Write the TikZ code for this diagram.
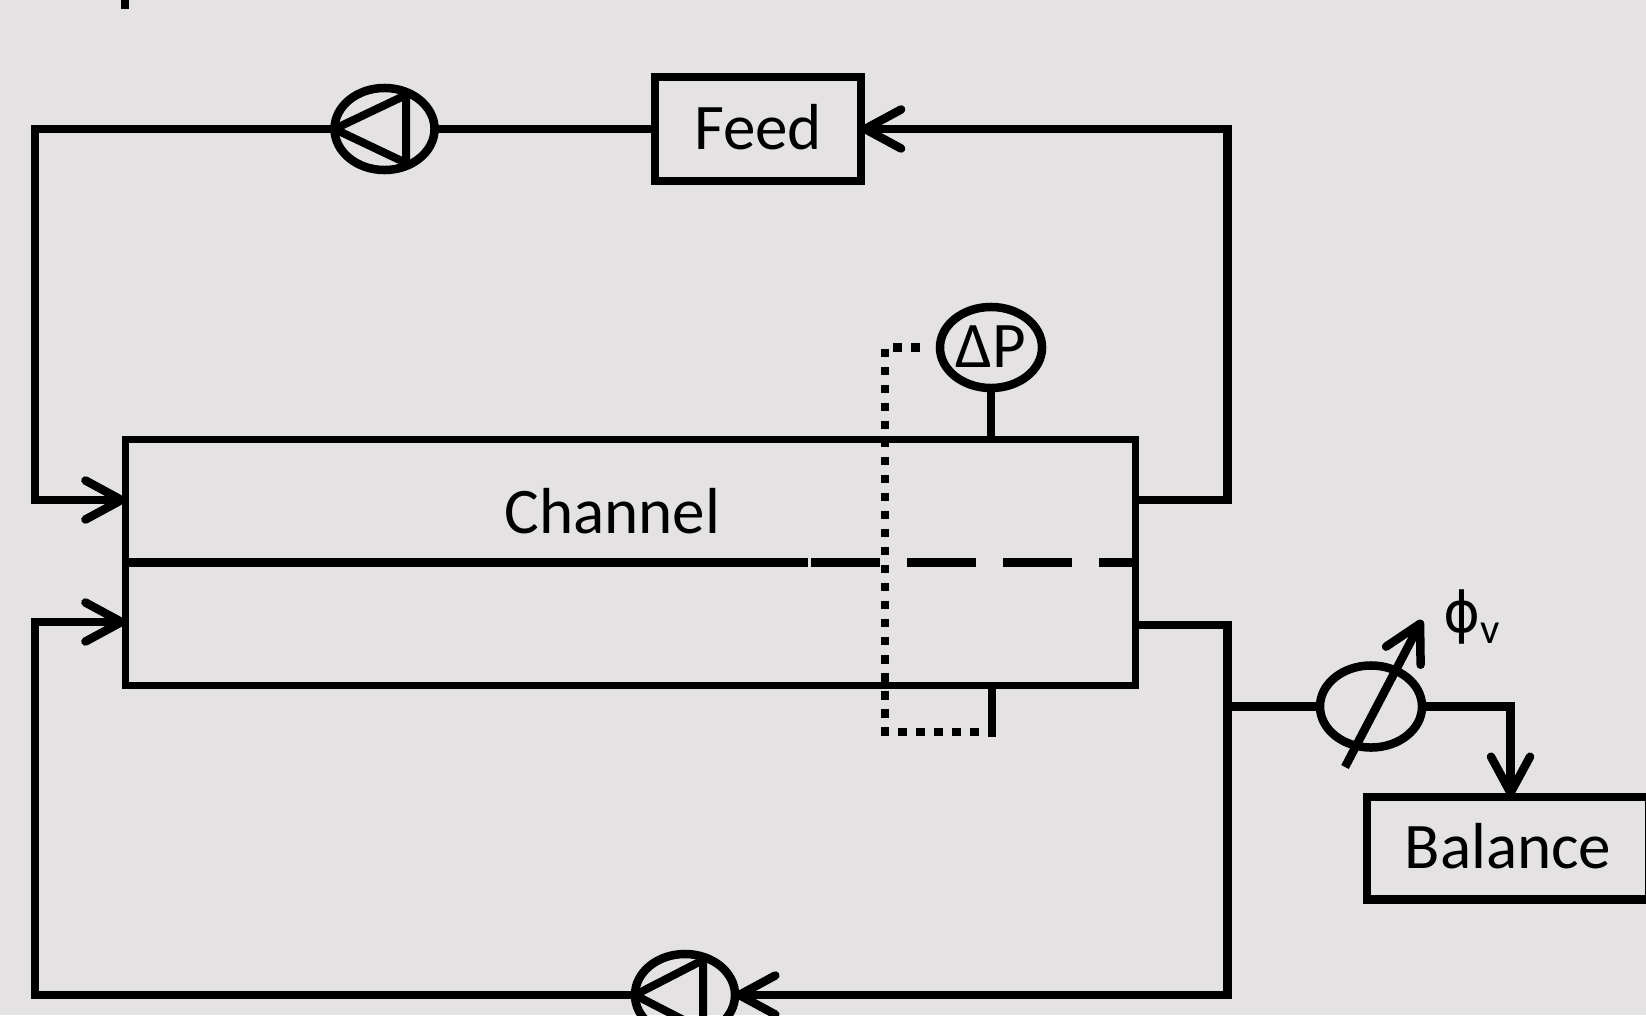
\documentclass[tikz,border=0pt]{standalone}
\usepackage{fontspec}
\setmainfont{Carlito}
\newfontfamily\phifont{DejaVu Sans}
\usetikzlibrary{arrows.meta,shapes.geometric,calc}
\definecolor{bgc}{RGB}{228,226,227}
\begin{document}
\begin{tikzpicture}[x=0.01cm,y=-0.01cm,
  pipe/.style={line width=0.085cm, line join=miter},
  flow/.style={pipe,-{Straight Barb[length=3.6mm,width=3.9mm,round]}},
  boxn/.style={draw,rectangle,line width=0.085cm,inner sep=0pt,outer sep=0pt,text height=0.4cm,text depth=0pt,font=\fontsize{18.5}{22}\selectfont},
  pumpn/.style={draw,ellipse,line width=0.085cm,minimum width=1.0cm,minimum height=0.82cm,inner sep=0pt,outer sep=0pt},
  lbl/.style={font=\fontsize{18.5}{22}\selectfont,inner sep=0pt},
  tri/.style={line width=0.08cm, line join=round},
  membrane/.style={line width=0.09cm},
  dots/.style={line width=0.088cm, dash pattern=on 0.088cm off 0.092cm}
]
\useasboundingbox (0,0) rectangle (1646,1015);
\clip (0,0) rectangle (1646,1015);
\fill[bgc] (0,0) rectangle (1646,1015);

% nodes
\node[boxn, minimum width=2.055cm, minimum height=1.04cm] (feed) at (758,129) {Feed};
\node[pumpn] (p1) at (384.5,129) {};
\node[draw, rectangle, line width=0.07cm, minimum width=10.095cm, minimum height=2.45cm, inner sep=0pt, outer sep=0pt] (ch) at (630.75,562.5) {};
\node[lbl, anchor=base] (chl) at (612.5,533) {Channel};
\node[pumpn, lbl, minimum width=1.02cm, minimum height=0.81cm, text height=0.4cm, text depth=0pt] (dp) at (991,347.5) {ΔP};
\node[pumpn, minimum width=1.02cm] (fm) at (1371,706.5) {};
\node[pumpn] (p2) at (685,995) {};
\node[boxn, minimum width=2.82cm, minimum height=1.025cm] (bal) at (1508,848.25) {Balance};
\node[lbl, anchor=base west] (phi) at (1443,632) {{\phifont\fontsize{16}{20}\selectfont ϕ}\raisebox{-0.11cm}{\fontsize{12.2}{14}\selectfont v}};

% pump triangles
\draw[tri] (p1.west) -- ($(p1.center)+(21.5,-34)$) -- ($(p1.center)+(21.5,34)$) -- cycle;
\draw[tri] (p2.west) -- ($(p2.center)+(18,-35)$) -- ($(p2.center)+(18,35)$) -- cycle;

% coordinates
\coordinate (tl) at (35,129);
\coordinate (tr) at (1227.5,129);
\coordinate (bl) at (35,995);
\coordinate (br) at (1227.5,995);
\coordinate (yU) at (0,500);
\coordinate (yL) at (0,622);
\coordinate (yL2) at (0,625);
\coordinate (mb) at (1227.5,706.5);
\coordinate (mc) at (1510.5,706.5);
\coordinate (dga) at (1345,767);
\coordinate (dgb) at (1422,620);
\coordinate (dt) at (920,347.5);
\coordinate (dc1) at (885,347.5);
\coordinate (dc2) at (885,732);
\coordinate (db) at (988,732);
\coordinate (dsb) at (992,737);
\coordinate (m1) at (808,562.5);
\coordinate (m2) at (811,562.5);
\coordinate (tk1) at (125,0);
\coordinate (tk2) at (125,9);

% connectors
\draw[pipe] (tk1) -- (tk2);
\draw[pipe] (feed.west) -- (p1.east);
\draw[flow] (p1.west) -- (tl) |- (ch.west |- yU);
\draw[flow] (ch.east |- yU) -| (tr) -- (feed.east);
\draw[flow] (p2.west) -- (bl) |- (ch.west |- yL);
\draw[flow] (ch.east |- yL2) -| (br) -- (p2.east);
\draw[pipe] (mb) -- (fm.west);
\draw[flow] (fm.east) -- (mc) -- (mc |- bal.north);
\draw[flow, line cap=butt] (dga) -- (dgb);
\draw[pipe] (dp.south) -- (dp.south |- ch.north);
\draw[dots] (dt) -- (dc1) -- (dc2) -- (db);
\draw[pipe] (dsb) -- (dsb |- ch.south);
\draw[membrane] (ch.west) -- (m1);
\draw[membrane, dash pattern=on 0.69cm off 0.27cm] (m2) -- (ch.east);
\end{tikzpicture}
\end{document}
